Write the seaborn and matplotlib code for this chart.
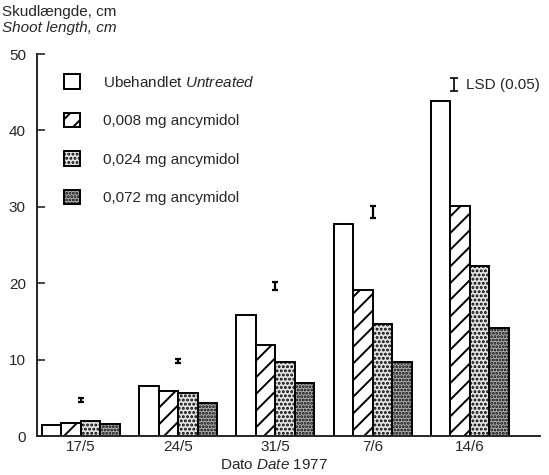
import pandas as pd
import matplotlib
matplotlib.use("Agg")
import matplotlib.pyplot as plt
import seaborn as sns

# data
datoer = ["17/5", "24/5", "31/5", "7/6", "14/6"]
behandlinger = ["Ubehandlet $\\mathit{Untreated}$", "0,008 mg ancymidol",
                "0,024 mg ancymidol", "0,072 mg ancymidol"]
ubehandlet = [1.4, 6.5, 15.8, 27.7, 43.8]
mg_008 = [1.7, 5.9, 11.9, 19.1, 30.1]
mg_024 = [2.0, 5.6, 9.7, 14.7, 22.2]
mg_072 = [1.6, 4.3, 6.9, 9.7, 14.1]

# LSD (0.05) per date, the last one is shown as key
lsd_midt = [4.7, 9.8, 19.6, 29.3]
lsd_halv = [0.25, 0.25, 0.5, 0.8]
lsd_noegle = 1.8

FS = 11

sns.set_style("ticks")
plt.rcParams['font.family'] = ['Liberation Sans', 'DejaVu Sans']
plt.rcParams['mathtext.fontset'] = 'custom'
plt.rcParams['mathtext.rm'] = 'Liberation Sans'
plt.rcParams['mathtext.it'] = 'Liberation Sans:italic'
plt.rcParams['hatch.linewidth'] = 1.4

rows = []
for b, serie in zip(behandlinger, [ubehandlet, mg_008, mg_024, mg_072]):
    for d, v in zip(datoer, serie):
        rows.append({"dato": d, "behandling": b, "laengde": v})
df = pd.DataFrame(rows)

fig = plt.figure(figsize=(5.49, 4.75), dpi=100)
ax = fig.add_axes([0.0674, 0.0821, 0.9162, 0.8042])

sns.barplot(data=df, x="dato", y="laengde", hue="behandling",
            hue_order=behandlinger, order=datoer,
            palette=["white", "white", "#e4e4e4", "#b4b4b4"],
            edgecolor="black", linewidth=1.4, width=0.8, gap=0,
            saturation=1, legend=False, ax=ax)

bar_containers = list(ax.containers)
hatches = ["", "//", "....", "....."]
for cont, h in zip(bar_containers, hatches):
    for bar in cont:
        bar.set_hatch(h)

ax.errorbar(range(len(lsd_midt)), lsd_midt, yerr=lsd_halv, fmt="none",
            ecolor="black", elinewidth=1.6, capsize=2.3, capthick=1.6)

# LSD key in upper right
ax.errorbar([0.83], [0.92], yerr=[lsd_noegle / 2 / 50], fmt="none",
            ecolor="black", elinewidth=1.2, capsize=3, capthick=1.2,
            transform=ax.transAxes, clip_on=False)
ax.text(0.852, 0.92, "LSD (0.05)", transform=ax.transAxes, fontsize=FS,
        va="center", ha="left")

ax.legend(handles=[c.patches[0] for c in bar_containers], labels=behandlinger,
          loc="upper left", bbox_to_anchor=(0.054, 0.947), frameon=False,
          fontsize=FS, handlelength=1.05, handleheight=1.1,
          labelspacing=1.5, handletextpad=1.5, borderpad=0,
          borderaxespad=0)

ax.set_ylim(0, 50)
ax.set_xlim(-0.45, 4.72)
ax.set_yticks([0, 10, 20, 30, 40, 50])
ax.tick_params(axis="y", direction="in", length=6, width=1.2,
               labelsize=FS, pad=8)
ax.tick_params(axis="x", length=0, labelsize=FS, pad=3)
ax.set_ylabel("")
ax.set_xlabel("Dato $\\mathit{Date}$ 1977", fontsize=FS, labelpad=2)
ax.xaxis.set_label_coords(0.471, -0.058)

sns.despine(ax=ax)
for s in ["left", "bottom"]:
    ax.spines[s].set_linewidth(1.4)

fig.text(0.004, 0.99, "Skudlængde, cm", fontsize=FS, va="top", ha="left")
fig.text(0.004, 0.955, "Shoot length, cm", fontsize=FS, va="top", ha="left",
         style="italic")

fig.savefig("out.png", dpi=100)
